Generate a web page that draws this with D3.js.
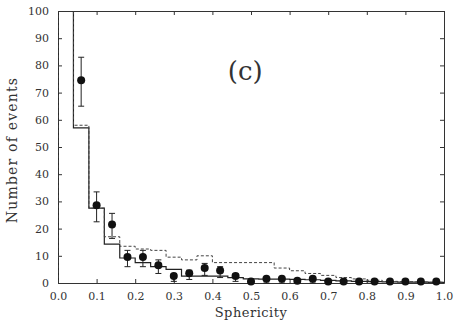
<!DOCTYPE html>
<html><head><meta charset="utf-8">
<script src="https://cdn.jsdelivr.net/npm/d3@7"></script>
<style>body{margin:0;background:#fff}svg{display:block}</style>
</head><body>
<script>
const binEdges = [0.00,0.04,0.08,0.12,0.16,0.20,0.24,0.28,0.32,0.36,0.40,0.44,0.48,0.52,0.56,0.60,0.64,0.68,0.72,0.76,0.80,0.84,0.88,0.92,0.96,1.00];
const solidHist = [105,57,27.5,14.3,9.2,7.5,6,5,2.5,2.5,2.5,2,1.5,1.4,1.4,1.3,1.2,1,0.8,0.6,0.5,0.4,0.3,0.3,0.2];
const dashedHist = [105,58,27.5,17,13.5,12.5,12,9.5,8.5,10,7.5,7.5,7.5,7.5,5.5,4.5,3.5,2.8,2,1.5,1,0.6,0.5,0.4,0.3];
const pointX = [0.06,0.10,0.14,0.18,0.22,0.26,0.30,0.34,0.38,0.42,0.46,0.50,0.54,0.58,0.62,0.66,0.70,0.74,0.78,0.82,0.86,0.90,0.94,0.98];
const pointY = [74,28,21,9,9,6,2,3,5,4,2,0,1,1,0.3,1,0,0,0,0,0,0,0,0];
const pointErr = [9,5.5,4.6,3,3,2.5,1.4,1.7,2.2,2,1.4,0,1,1,0,1,0,0,0,0,0,0,0,0];
const xTicks = [0,0.1,0.2,0.3,0.4,0.5,0.6,0.7,0.8,0.9,1.0];
const yTicks = [0,10,20,30,40,50,60,70,80,90,100];

const FONT="'DejaVu Serif','Liberation Serif',serif";
const W=456,H=326;
const m={left:58,right:12,top:11,bottom:43};
const svg=d3.select("body").append("svg").attr("width",W).attr("height",H);
const x=d3.scaleLinear().domain([0,1]).range([m.left,W-m.right]);
const y=d3.scaleLinear().domain([0,100]).range([H-m.bottom,m.top]);

svg.append("clipPath").attr("id","pc").append("rect")
  .attr("x",x(0)).attr("y",y(100)).attr("width",x(1)-x(0)).attr("height",y(0)-y(100));

const ink="#333";
const ax=svg.append("g").attr("transform",`translate(0,${y(0)})`)
  .call(d3.axisBottom(x).tickValues(xTicks).tickFormat(d3.format(".1f")).tickSizeInner(-4).tickSizeOuter(0).tickPadding(9));
const axT=svg.append("g").attr("transform",`translate(0,${y(100)})`)
  .call(d3.axisTop(x).tickValues(xTicks).tickFormat("").tickSizeInner(-4).tickSizeOuter(0));
const ay=svg.append("g").attr("transform",`translate(${x(0)},0)`)
  .call(d3.axisLeft(y).tickValues(yTicks).tickSizeInner(-4).tickSizeOuter(0).tickPadding(9));
const ayR=svg.append("g").attr("transform",`translate(${x(1)},0)`)
  .call(d3.axisRight(y).tickValues(yTicks).tickFormat("").tickSizeInner(-4).tickSizeOuter(0));
[ax,axT,ay,ayR].forEach(g=>{
  g.attr("font-family",FONT);
  g.selectAll("path,line").attr("stroke",ink).attr("stroke-width",1);
  g.selectAll("text").attr("font-size",11).attr("fill",ink).attr("font-family",FONT);
});

function stepLine(vals){
  const pts=[[binEdges[0],0]];
  vals.forEach((v,i)=>{pts.push([binEdges[i],v]);pts.push([binEdges[i+1],v]);});
  return d3.line().x(d=>x(d[0])).y(d=>y(d[1]))(pts);
}
svg.append("path").attr("d",stepLine(solidHist)).attr("clip-path","url(#pc)")
  .attr("fill","none").attr("stroke","#222").attr("stroke-width",1.2);
svg.append("path").attr("d",stepLine(dashedHist)).attr("clip-path","url(#pc)")
  .attr("fill","none").attr("stroke","#444").attr("stroke-width",1).attr("stroke-dasharray","3,2");

const eb=svg.append("g").attr("stroke","#222").attr("stroke-width",1);
pointX.forEach((px,i)=>{
  const e=pointErr[i]; if(!e) return;
  const cx=x(px);
  const top=y(pointY[i]+e), bot=y(Math.max(0,pointY[i]-e));
  eb.append("line").attr("x1",cx).attr("x2",cx).attr("y1",top).attr("y2",bot);
  eb.append("line").attr("x1",cx-3).attr("x2",cx+3).attr("y1",top).attr("y2",top);
  eb.append("line").attr("x1",cx-3).attr("x2",cx+3).attr("y1",bot).attr("y2",bot);
});
svg.append("g").selectAll("circle").data(pointX).join("circle")
  .attr("cx",d=>x(d)).attr("cy",(d,i)=>y(pointY[i])-1.5).attr("r",4).attr("fill","#111");

svg.append("text").attr("x",x(0.5)).attr("y",317).attr("text-anchor","middle")
  .attr("font-family",FONT).attr("font-size",13).attr("fill",ink).attr("letter-spacing",0.5).text("Sphericity");
svg.append("text").attr("transform",`translate(17,${y(50)+3}) rotate(-90)`).attr("text-anchor","middle")
  .attr("font-family",FONT).attr("font-size",14).attr("fill",ink).attr("letter-spacing",1.2).text("Number of events");
svg.append("text").attr("x",x(0.485)).attr("y",80).attr("text-anchor","middle")
  .attr("font-family",FONT).attr("font-size",26).attr("fill",ink).attr("font-weight",300).text("(c)");
</script>
</body></html>
